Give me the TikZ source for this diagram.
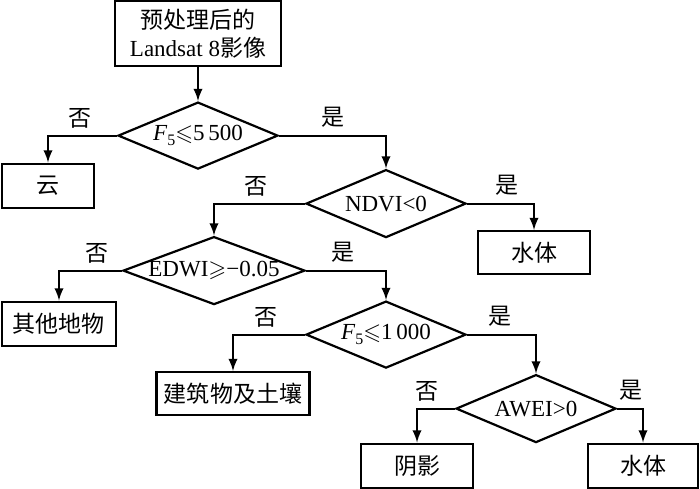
\documentclass[tikz,border=0pt]{standalone}
\usepackage{amssymb}
\usepackage{fontspec}
\setmainfont{Liberation Serif}
\newfontfamily\cjk{Noto Sans CJK SC}
\usepackage{tikz}
\usetikzlibrary{arrows,shapes.geometric}
\usetikzlibrary{positioning}
\tikzset{>=latex}
\newcommand{\Ffive}{\textit{F}\raisebox{-0.45ex}{\footnotesize 5}}

\begin{document}
\begin{tikzpicture}[box/.style={rectangle, draw=black, inner sep=0pt, align=center}, test/.style={diamond, draw=black, inner sep=0pt, aspect=2.7}, node distance=30pt, on grid, auto, line width=1.1pt, font=\fontsize{11.5}{14}\selectfont]
		\node[box, minimum width=83pt, minimum height=32.5pt] (img) {{\cjk 预处理后的}\\Landsat 8{\cjk 影像}};
		\node[test, minimum width=80pt, minimum height=33.5pt] (t1) [below=51pt of img] {\Ffive$\leqslant$5\,500};
		\node[box, minimum width=46pt, minimum height=22pt] (cloud) [below left=25pt and 75pt of t1] {\cjk 云};
		\node[test, minimum width=80pt, minimum height=34pt] (t2) [below right=34pt and 94pt of t1] {NDVI<0};
		\node[box, minimum width=56pt, minimum height=21.5pt] (water1) [below right=24.5pt and 74pt of t2] {\cjk 水体};
		\node[test, minimum width=91pt, minimum height=34pt] (t3) [below left=33.5pt and 86pt of t2] {EDWI$\geqslant$−0.05};
		\node[box, minimum width=57pt, minimum height=22pt] (other) [below left=26.5pt and 77.5pt of t3] {\cjk 其他地物};
		\node[test, minimum width=80pt, minimum height=33.5pt] (t4) [below right=32pt and 86pt of t3] {\Ffive$\leqslant$1\,000};
		\node[box, minimum width=76.5pt, minimum height=21.5pt] (soil) [below left=29.5pt and 76.5pt of t4] {\cjk 建筑物及土壤};
		\node[test, minimum width=80pt, minimum height=34pt] (t5) [below right=37pt and 75pt of t4] {AWEI>0};
		\node[box, minimum width=56pt, minimum height=22pt] (shadow) [below left=28.5pt and 59.5pt of t5] {\cjk 阴影};
		\node[box, minimum width=55pt, minimum height=22pt] (water2) [below right=28.5pt and 53.5pt of t5] {\cjk 水体};

		\useasboundingbox ([xshift=-99pt, yshift=16.75pt]img.center) rectangle ([xshift=251pt, yshift=-227.25pt]img.center);

		\draw[->] (img) -- (t1);
		\draw[->] (t1.west) -| node[pos=0.27, above] {\cjk 否} (cloud);
		\draw[->] (t1.east) -| node[pos=0.25, above] {\cjk 是} (t2);
		\draw[->] (t2.east) -| node[pos=0.3, above] {\cjk 是} (water1);
		\draw[->] (t2.west) -| node[pos=0.27, above] {\cjk 否} (t3);
		\draw[->] (t3.west) -| node[pos=0.2, above] {\cjk 否} (other);
		\draw[->] (t3.east) -| node[pos=0.23, above] {\cjk 是} (t4);
		\draw[->] (t4.west) -| node[pos=0.27, above] {\cjk 否} (soil);
		\draw[->] (t4.east) -| node[pos=0.24, above] {\cjk 是} (t5);
		\draw[->] (t5.west) -| node[pos=0.37, above] {\cjk 否} (shadow);
		\draw[->] (t5.east) -| node[pos=0.27, above] {\cjk 是} (water2);
	\end{tikzpicture}
\end{document}
